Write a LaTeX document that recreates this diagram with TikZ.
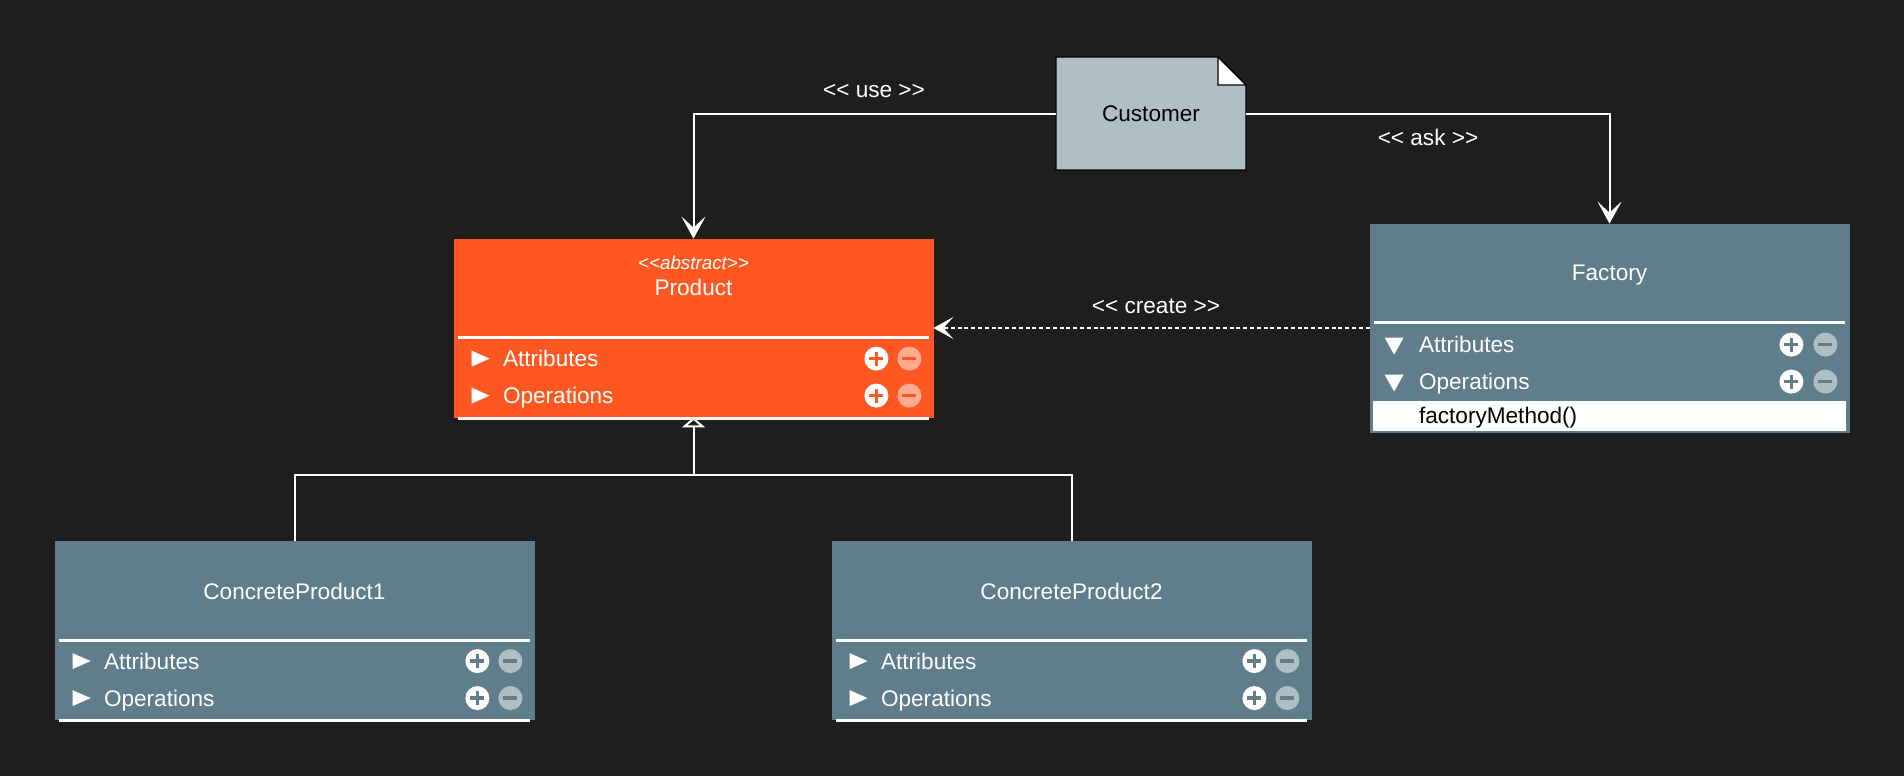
\documentclass[tikz,border=0pt]{standalone}
\usepackage{fontspec}
\setmainfont{Liberation Sans}
\usetikzlibrary{arrows.meta,positioning}
\definecolor{bg-dark}{HTML}{1E1E1E}
\definecolor{uml-orange}{HTML}{FF5722}
\definecolor{uml-slate}{HTML}{607D8B}
\definecolor{uml-grey}{HTML}{B0BEC5}
\newcommand{\stereo}[1]{<\kern0pt< #1 >\kern0pt>}

\tikzset{
  classbox/.style={rectangle, draw=#1, fill=#1, inner sep=0pt, minimum width=239.5pt, minimum height=89pt},
  titletext/.style={inner sep=0pt, text height=8pt, text depth=0pt},
  rowtext/.style={anchor=west, inner sep=0pt, text height=8pt, text depth=0pt},
  sepline/.style={white, line width=1.5pt},
  notebox/.style={draw=black, fill=uml-grey, line width=0.6pt},
  usearrow/.style={white, line width=1pt, -{Stealth[length=11pt, width=12pt, inset=5.5pt]}},
  createarrow/.style={white, line width=1pt, dash pattern=on 2pt off 1.4pt, -{Stealth[length=10pt, width=11pt, inset=5pt]}},
  inheritarrow/.style={white, line width=1pt, -{Triangle[open, length=5pt, width=11.5pt]}},
  inheritline/.style={white, line width=1pt}
}

\begin{document}
\begin{tikzpicture}[x=0.5pt, y=-0.5pt, every node/.style={font=\fontsize{11.3}{13}\selectfont, text=white}]
\fill[bg-dark] (0,0) rectangle (1904,776);

% class boxes
\node[classbox=uml-orange] (prod) at (693.5,328) {};
\node[classbox=uml-slate, minimum height=104pt] (fact) at (1609.5,328) {};
\node[classbox=uml-slate] (cp1) at (294.5,630.5) {};
\node[classbox=uml-slate] (cp2) at (1071.5,630.5) {};

\node[titletext, font=\fontsize{9.4}{11}\selectfont\itshape] (prod-stereo) at ([shift={(0,23)}]prod.north) {<\kern0pt<abstract>\kern0pt>};
\node[titletext] (prod-name) at ([shift={(0,49)}]prod.north) {Product};
\node[titletext] (fact-name) at ([shift={(0,49)}]fact.north) {Factory};
\node[titletext] (cp1-name) at ([shift={(0,50)}]cp1.north) {ConcreteProduct1};
\node[titletext] (cp2-name) at ([shift={(0,50)}]cp2.north) {ConcreteProduct2};

% collapsed compartments
\foreach \b/\c in {prod/uml-orange, cp1/uml-slate, cp2/uml-slate}{
  \draw[sepline] ([shift={(4,99)}]\b.north west) -- ([shift={(-4,99)}]\b.north east);
  \draw[sepline] ([shift={(4,1)}]\b.south west) -- ([shift={(-4,1)}]\b.south east);
  \foreach \y/\t/\n in {120/Attributes/att, 157/Operations/ops}{
    \fill[white] ([shift={(18,\y-8)}]\b.north west) -- ++(0,16) -- ++(18,-8) -- cycle;
    \node[rowtext] (\b-\n) at ([shift={(49,\y)}]\b.north west) {\t};
    \fill[white] ([shift={(-57,\y)}]\b.north east) circle[radius=6pt];
    \draw[\c, line width=1.75pt] ([shift={(-64,\y)}]\b.north east) -- ++(14,0) ([shift={(-57,\y-7)}]\b.north east) -- ++(0,14);
    \fill[white, opacity=.5] ([shift={(-24,\y)}]\b.north east) circle[radius=6pt];
    \draw[\c, line width=1.75pt] ([shift={(-31,\y)}]\b.north east) -- ++(14,0);
  }
}

% expanded compartments
\draw[sepline] ([shift={(4,99)}]fact.north west) -- ([shift={(-4,99)}]fact.north east);
\foreach \y/\t/\n in {121/Attributes/att, 158/Operations/ops}{
  \fill[white] ([shift={(15,\y-7)}]fact.north west) -- ++(19,0) -- ++(-9.5,17) -- cycle;
  \node[rowtext] (fact-\n) at ([shift={(49,\y)}]fact.north west) {\t};
  \fill[white] ([shift={(-58,\y)}]fact.north east) circle[radius=6pt];
  \draw[uml-slate, line width=1.75pt] ([shift={(-65,\y)}]fact.north east) -- ++(14,0) ([shift={(-58,\y-7)}]fact.north east) -- ++(0,14);
  \fill[white, opacity=.5] ([shift={(-24,\y)}]fact.north east) circle[radius=6pt];
  \draw[uml-slate, line width=1.75pt] ([shift={(-31,\y)}]fact.north east) -- ++(14,0);
}
\fill[white] ([shift={(3,177)}]fact.north west) rectangle ([shift={(-3,-1)}]fact.south east);
\node[rowtext, text=black] (fact-method) at ([shift={(49,192)}]fact.north west) {factoryMethod()};

% note
\draw[notebox] (1056,57) -- (1218,57) -- (1246,85) -- (1246,170) -- (1056,170) -- cycle;
\draw[black, fill=white, line width=0.6pt] (1218,57) -- (1218,85) -- (1246,85) -- cycle;
\node[inner sep=0pt, minimum width=95pt, minimum height=56.5pt, text=black] (cust) at (1151,113.5) {Customer};

% connectors
\draw[usearrow] (cust.west) -| (prod.north);
\draw[usearrow] (cust.east) -| (fact.north);
\draw[createarrow] (fact.west) -- (prod.east);
\coordinate (split) at (693.5,475);
\draw[inheritarrow] (split) -- (prod.south);
\draw[inheritline] (cp1.north) |- (split) -| (cp2.north);

\node (use-label) at (874,91) {\stereo{use}};
\node (ask-label) at (1428,137) {\stereo{ask}};
\node (create-label) at (1156,306) {\stereo{create}};
\end{tikzpicture}
\end{document}
